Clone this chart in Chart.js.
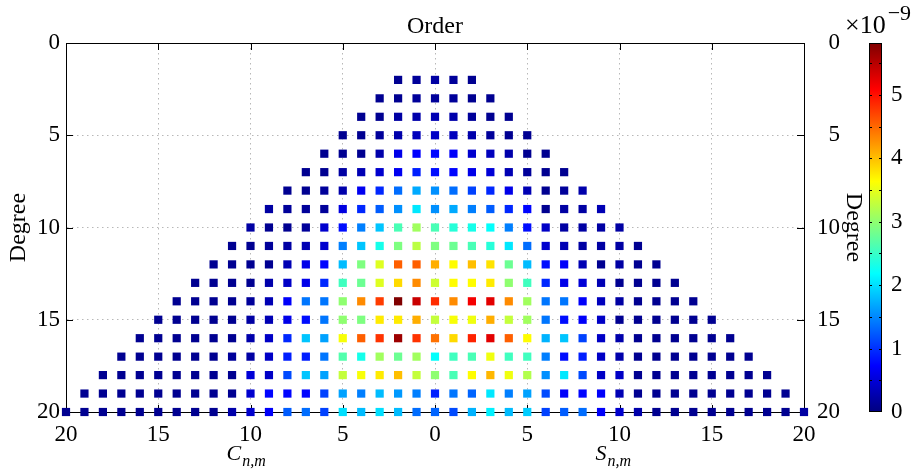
<!DOCTYPE html>
<html>
<head>
<meta charset="utf-8">
<title>Coefficient map</title>
<script src="https://cdn.jsdelivr.net/npm/chart.js@4.4.1/dist/chart.umd.min.js"></script>
<style>
  body { margin: 0; background: #fff; }
  #wrap { position: relative; width: 919px; height: 474px; }
  #wrap canvas { position: absolute; top: 0; }
  #main { left: 0; }
  #cbar { left: 860px; }
</style>
</head>
<body>
<div id="wrap">
  <canvas id="main" width="919" height="474"></canvas>
  <canvas id="cbar" width="59" height="474"></canvas>
</div>
<script>
// ---------- DATA (values in units of 1e-9) ----------
const degrees = [2, 3, 4, 5, 6, 7, 8, 9, 10, 11, 12, 13, 14, 15, 16, 17, 18, 19, 20];

// C_{n,m}, m = 0..n  (plotted at order -m)
const cnm = [
  [0.2, 0.15, 0.1],
  [0.15, 0.15, 0.1, 0.1],
  [0.3, 0.25, 0.2, 0.1, 0.1],
  [0.4, 0.35, 0.25, 0.15, 0.1, 0.1],
  [0.75, 0.73, 0.6, 0.25, 0.1, 0.1, 0.1],
  [0.8, 0.9, 0.65, 0.45, 0.3, 0.2, 0.1, 0.1],
  [1.55, 1.7, 1.35, 0.95, 0.65, 0.25, 0.15, 0.1, 0.1],
  [1.55, 2.05, 1.55, 1.25, 0.95, 0.55, 0.15, 0.15, 0.15, 0.2],
  [2.6, 3.1, 2.6, 1.85, 1.45, 0.8, 0.45, 0.15, 0.1, 0.1, 0.2],
  [2.9, 3.25, 2.9, 2.3, 1.85, 1.45, 0.45, 0.3, 0.2, 0.15, 0.1, 0.1],
  [4.1, 4.55, 4.55, 3.45, 2.9, 1.8, 0.75, 0.6, 0.3, 0.1, 0.1, 0.1, 0.1],
  [3.35, 4.3, 3.85, 3.45, 2.8, 2.55, 0.95, 0.6, 0.4, 0.25, 0.1, 0.1, 0.1, 0.1],
  [4.85, 5.4, 5.82, 4.75, 4.3, 3.0, 1.4, 1.4, 0.7, 0.3, 0.15, 0.1, 0.1, 0.1, 0.1],
  [3.3, 4.1, 3.75, 3.75, 2.9, 3.0, 1.4, 0.8, 0.6, 0.3, 0.2, 0.1, 0.1, 0.1, 0.1, 0.1],
  [4.45, 4.8, 5.65, 4.8, 4.55, 3.6, 1.65, 1.85, 0.95, 0.4, 0.25, 0.1, 0.1, 0.1, 0.1, 0.1, 0.1],
  [2.2, 3.1, 2.8, 3.1, 2.3, 2.65, 1.4, 0.9, 0.9, 0.4, 0.2, 0.15, 0.1, 0.1, 0.1, 0.1, 0.1, 0.1],
  [3.0, 3.3, 4.0, 3.75, 3.6, 3.3, 1.65, 1.85, 1.15, 0.4, 0.5, 0.1, 0.1, 0.1, 0.1, 0.1, 0.1, 0.1, 0.1],
  [0.9, 1.45, 1.6, 1.8, 1.45, 1.65, 1.1, 0.75, 0.75, 0.75, 0.45, 0.1, 0.1, 0.1, 0.1, 0.1, 0.1, 0.1, 0.1, 0.1],
  [1.3, 1.35, 1.8, 2.0, 1.8, 2.0, 1.1, 1.35, 1.25, 0.7, 0.45, 0.25, 0.1, 0.1, 0.1, 0.1, 0.1, 0.1, 0.1, 0.1, 0.1]
];

// S_{n,m}, m = 1..n  (plotted at order +m)
const snm = [
  [0.15, 0.1],
  [0.15, 0.1, 0.1],
  [0.25, 0.15, 0.1, 0.1],
  [0.35, 0.25, 0.15, 0.1, 0.1],
  [0.7, 0.45, 0.35, 0.25, 0.1, 0.1],
  [0.75, 0.6, 0.5, 0.3, 0.15, 0.1, 0.1],
  [1.35, 1.1, 0.95, 0.6, 0.3, 0.1, 0.15, 0.25],
  [1.7, 1.45, 1.25, 0.95, 0.75, 0.1, 0.2, 0.2, 0.3],
  [2.4, 2.3, 2.2, 1.45, 0.8, 0.4, 0.2, 0.2, 0.2, 0.2],
  [2.8, 2.6, 2.4, 2.05, 1.35, 0.45, 0.3, 0.2, 0.2, 0.2, 0.1],
  [3.65, 4.0, 3.8, 2.8, 1.8, 0.8, 0.7, 0.3, 0.1, 0.2, 0.1, 0.1],
  [3.65, 3.65, 3.75, 3.0, 2.55, 0.95, 0.6, 0.5, 0.3, 0.1, 0.1, 0.1, 0.1],
  [4.3, 5.15, 5.25, 4.3, 3.1, 1.4, 1.4, 0.7, 0.35, 0.2, 0.1, 0.1, 0.1, 0.1],
  [3.6, 3.55, 4.1, 3.3, 3.1, 1.4, 0.8, 0.7, 0.4, 0.1, 0.1, 0.1, 0.1, 0.1, 0.1],
  [3.85, 4.9, 5.25, 4.55, 3.65, 1.75, 1.85, 1.1, 0.4, 0.25, 0.1, 0.1, 0.1, 0.1, 0.1, 0.1],
  [2.55, 2.6, 3.55, 2.55, 2.55, 1.45, 0.8, 0.9, 0.4, 0.25, 0.1, 0.1, 0.1, 0.1, 0.1, 0.1, 0.1],
  [2.6, 3.65, 4.05, 3.55, 3.2, 1.55, 2.05, 1.15, 0.4, 0.4, 0.1, 0.1, 0.1, 0.1, 0.1, 0.1, 0.1, 0.1],
  [1.4, 1.3, 2.05, 1.45, 1.65, 1.15, 0.7, 0.75, 0.7, 0.3, 0.1, 0.1, 0.1, 0.1, 0.1, 0.1, 0.1, 0.1, 0.1],
  [1.15, 1.75, 2.1, 1.8, 1.9, 1.1, 1.25, 1.35, 0.7, 0.45, 0.25, 0.1, 0.1, 0.1, 0.1, 0.1, 0.1, 0.1, 0.1, 0.2]
];

const orderTicks = [-20, -15, -10, -5, 0, 5, 10, 15, 20];
const degreeTicks = [0, 5, 10, 15, 20];
const cbarTicks = [0, 1, 2, 3, 4, 5];
const cbarMinor = [0.5, 1, 1.5, 2, 2.5, 3, 3.5, 4, 4.5, 5, 5.5];
const cbarMax = 5.82;

// ---------- HELPERS ----------
const FONT = "'Liberation Serif', 'Times New Roman', serif";
Chart.defaults.font.family = FONT;
Chart.defaults.font.size = 23;
Chart.defaults.color = '#000';

const clamp = v => Math.min(1, Math.max(0, v));
function jet(t) {
  t = clamp(t);
  const r = clamp(Math.min(4 * t - 1.5, -4 * t + 4.5));
  const g = clamp(Math.min(4 * t - 0.5, -4 * t + 3.5));
  const b = clamp(Math.min(4 * t + 0.5, -4 * t + 2.5));
  return `rgb(${Math.round(r * 255)},${Math.round(g * 255)},${Math.round(b * 255)})`;
}

const points = [];
degrees.forEach((n, i) => {
  cnm[i].forEach((v, m) => points.push({ x: -m, y: n, v }));
  snm[i].forEach((v, k) => points.push({ x: k + 1, y: n, v }));
});

const setTicks = list => s => { s.ticks = list.map(value => ({ value })); };

// short inward tick marks on all four sides
const innerTicks = {
  id: 'innerTicks',
  beforeDatasetsDraw(chart) {
    const { ctx, chartArea: a, scales } = chart;
    ctx.save();
    ctx.strokeStyle = '#000';
    ctx.lineWidth = 1;
    ctx.beginPath();
    orderTicks.forEach(v => {
      const px = Math.round(scales.x.getPixelForValue(v)) + 0.5;
      ctx.moveTo(px, a.top); ctx.lineTo(px, a.top + 7);
      ctx.moveTo(px, a.bottom); ctx.lineTo(px, a.bottom - 7);
    });
    degreeTicks.forEach(v => {
      const py = Math.round(scales.y.getPixelForValue(v)) + 0.5;
      ctx.moveTo(a.left, py); ctx.lineTo(a.left + 7, py);
      ctx.moveTo(a.right, py); ctx.lineTo(a.right - 7, py);
    });
    ctx.stroke();
    ctx.restore();
  }
};

// C/S labels under the axis and the colorbar exponent
const extraText = {
  id: 'extraText',
  afterDraw(chart) {
    const { ctx, scales: { x } } = chart;
    ctx.save();
    ctx.fillStyle = '#000';
    ctx.textBaseline = 'alphabetic';
    ctx.textAlign = 'left';
    [['C', -10], ['S', 10]].forEach(([sym, at]) => {
      const px = x.getPixelForValue(at) - 24;
      ctx.font = `italic 22px ${FONT}`;
      ctx.fillText(sym, px, 460);
      const w = ctx.measureText(sym).width;
      ctx.font = `italic 16px ${FONT}`;
      ctx.fillText('n,m', px + w + 1, 466);
    });
    ctx.font = `26px ${FONT}`;
    ctx.fillText('\u00d710', 845, 33);
    const w = ctx.measureText('\u00d710').width;
    ctx.font = `22px ${FONT}`;
    ctx.fillText('\u22129', 845 + w + 2, 20);
    ctx.restore();
  }
};

const gridLine = { color: '#b8b8b8', lineWidth: 1, drawTicks: false };
const frame = { display: true, color: '#000', width: 1, dash: [1.5, 3.5] };

new Chart(document.getElementById('main'), {
  type: 'scatter',
  data: {
    datasets: [{
      data: points,
      pointStyle: 'rect',
      pointRadius: 5.8,
      pointHoverRadius: 5.8,
      borderWidth: 0,
      backgroundColor: ctx => jet(ctx.raw.v / cbarMax),
      clip: false
    }]
  },
  options: {
    responsive: false,
    animation: false,
    devicePixelRatio: 1,
    events: [],
    // right padding leaves room for the right-hand title next to the colorbar
    layout: { padding: { left: 0, top: 0, bottom: 0, right: 79 } },
    plugins: { legend: { display: false }, tooltip: { enabled: false } },
    scales: {
      x: {
        position: 'bottom', min: -20, max: 20,
        grid: gridLine, border: frame,
        ticks: { padding: 9, maxRotation: 0, callback: v => Math.abs(v) },
        afterBuildTicks: setTicks(orderTicks),
        afterFit: s => { s.height = 62; }
      },
      x2: {
        position: 'top', min: -20, max: 20,
        grid: { display: false, drawTicks: false }, border: { display: true, color: '#000', width: 1 },
        ticks: { display: false },
        title: { display: true, text: 'Order', font: { size: 24 }, padding: { top: 12, bottom: 0 } },
        afterFit: s => { s.height = 43; }
      },
      y: {
        position: 'left', min: 0, max: 20, reverse: true,
        grid: gridLine, border: frame,
        ticks: { padding: 6 },
        afterBuildTicks: setTicks(degreeTicks),
        title: { display: true, text: 'Degree', font: { size: 24 }, padding: { top: 4, bottom: 0 } },
        afterFit: s => { s.width = 66; }
      },
      y2: {
        position: 'right', min: 0, max: 20, reverse: true,
        grid: { display: false, drawTicks: false }, border: { display: true, color: '#000', width: 1 },
        ticks: { padding: 0, crossAlign: 'far' },
        afterBuildTicks: setTicks(degreeTicks),
        title: { display: true, text: 'Degree', font: { size: 24 }, padding: { top: -28, bottom: 0 } },
        afterFit: s => { s.width = 36; }
      }
    }
  },
  plugins: [innerTicks, extraText]
});

// ---------- COLORBAR ----------
const colorbar = {
  id: 'colorbar',
  beforeDatasetsDraw(chart) {
    const { ctx, chartArea: a, scales: { y } } = chart;
    ctx.save();
    const g = ctx.createLinearGradient(0, a.bottom, 0, a.top);
    for (let i = 0; i <= 64; i++) g.addColorStop(i / 64, jet(i / 64));
    ctx.fillStyle = g;
    ctx.fillRect(a.left, a.top, a.right - a.left, a.bottom - a.top);
    ctx.strokeStyle = '#000';
    ctx.lineWidth = 1;
    ctx.beginPath();
    cbarMinor.forEach(v => {
      const py = Math.round(y.getPixelForValue(v)) + 0.5;
      ctx.moveTo(a.left, py); ctx.lineTo(a.left + 3, py);
      ctx.moveTo(a.right, py); ctx.lineTo(a.right - 3, py);
    });
    ctx.stroke();
    ctx.strokeRect(a.left + 0.5, a.top + 0.5, a.right - a.left - 1, a.bottom - a.top - 1);
    ctx.restore();
  }
};

new Chart(document.getElementById('cbar'), {
  type: 'scatter',
  data: { datasets: [] },
  options: {
    responsive: false,
    animation: false,
    devicePixelRatio: 1,
    events: [],
    layout: { padding: { left: 9, top: 43, bottom: 62, right: 0 } },
    plugins: { legend: { display: false }, tooltip: { enabled: false } },
    scales: {
      x: { display: false, min: 0, max: 1 },
      y: {
        position: 'right', min: 0, max: cbarMax,
        grid: { display: false, drawTicks: false }, border: { display: false },
        ticks: { padding: 9, includeBounds: false },
        afterBuildTicks: setTicks(cbarTicks),
        afterFit: s => { s.width = 37; }
      }
    }
  },
  plugins: [colorbar]
});
</script>
</body>
</html>
